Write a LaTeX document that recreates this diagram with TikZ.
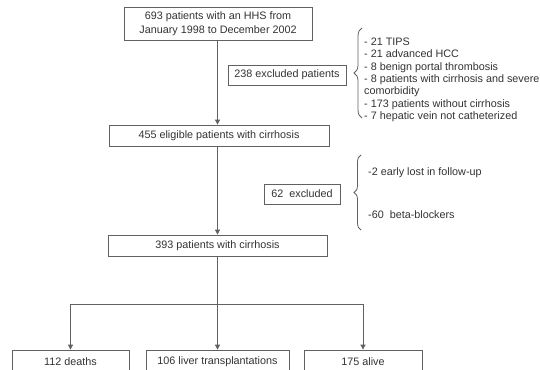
\documentclass[tikz,border=0pt]{standalone}
\usepackage{fontspec}
\setmainfont{Liberation Sans}
\usetikzlibrary{arrows.meta,decorations.pathreplacing}
\begin{document}
\begin{tikzpicture}[x=1pt,y=-1pt,
  fbox/.style={draw=black!62,line width=0.8pt,fill=white,inner sep=0pt,
    text=black!80,font=\fontsize{10.8}{13.8}\selectfont,align=center},
  conn/.style={draw=black!62,line width=0.8pt},
  arr/.style={conn,-{Triangle[length=5pt,width=5pt]}},
  brc/.style={draw=black!62,line width=0.8pt,decorate},
  ltxt/.style={anchor=west,inner sep=0pt,text=black!80,font=\fontsize{10.8}{12.3}\selectfont,
    text height=7.5pt,text depth=2.3pt}
]
\clip (0,0) rectangle (540,369);
\fill[white] (0,0) rectangle (540,369);

\node[fbox,minimum width=188pt,minimum height=33pt] (top) at (218,23.5)
  {693 patients with an HHS from\\January 1998 to December 2002};
\node[fbox,minimum width=118pt,minimum height=20pt] (ex1) at (287,75) {238 excluded patients};
\node[fbox,minimum width=220pt,minimum height=21pt] (elig) at (219,135.5) {455 eligible patients with cirrhosis};
\node[fbox,minimum width=76pt,minimum height=20pt] (ex2) at (302,194) {62\ \ excluded};
\node[fbox,minimum width=219pt,minimum height=21pt] (cir) at (217.5,245.5) {393 patients with cirrhosis};
\node[fbox,minimum width=117pt,minimum height=24pt] (d112) at (70.5,362) {112 deaths};
\node[fbox,minimum width=143pt,minimum height=24pt] (d106) at (217.5,362) {106 liver transplantations};
\node[fbox,minimum width=118pt,minimum height=24pt] (d175) at (363,362) {175 alive};

\coordinate (split) at (217.5,304);

\draw[arr] (top.south -| cir) -- (elig.north -| cir);
\draw[arr] (elig.south -| cir) -- (cir.north);
\draw[arr] (cir.south) -- (d106.north);
\draw[conn] (split -| d112) -- (split -| d175);
\draw[arr] (split -| d112) -- (d112.north);
\draw[arr] (split -| d175) -- (d175.north);

\coordinate (b1s) at (362,118);
\coordinate (b1n) at (362,28);
\draw[brc,decoration={brace,amplitude=8pt,aspect=0.5}] (b1s) -- (b1n);
\node[ltxt] (l1) at (364,43) {- 21 TIPS};
\node[ltxt] (l2) at (364,55.3) {- 21 advanced HCC};
\node[ltxt] (l3) at (364,67.6) {- 8 benign portal thrombosis};
\node[ltxt] (l4) at (364,79.9) {- 8 patients with cirrhosis and severe};
\node[ltxt] (l5) at (364,92.2) {comorbidity};
\node[ltxt] (l6) at (364,104.5) {- 173 patients without cirrhosis};
\node[ltxt] (l7) at (364,116.8) {- 7 hepatic vein not catheterized};

\coordinate (b2s) at (361,230);
\coordinate (b2n) at (361,155);
\draw[brc,decoration={brace,amplitude=7pt,aspect=0.5}] (b2s) -- (b2n);
\node[ltxt] (m1) at (368,173) {-2 early lost in follow-up};
\node[ltxt] (m2) at (368,216) {-60\ \ beta-blockers};
\end{tikzpicture}
\end{document}
